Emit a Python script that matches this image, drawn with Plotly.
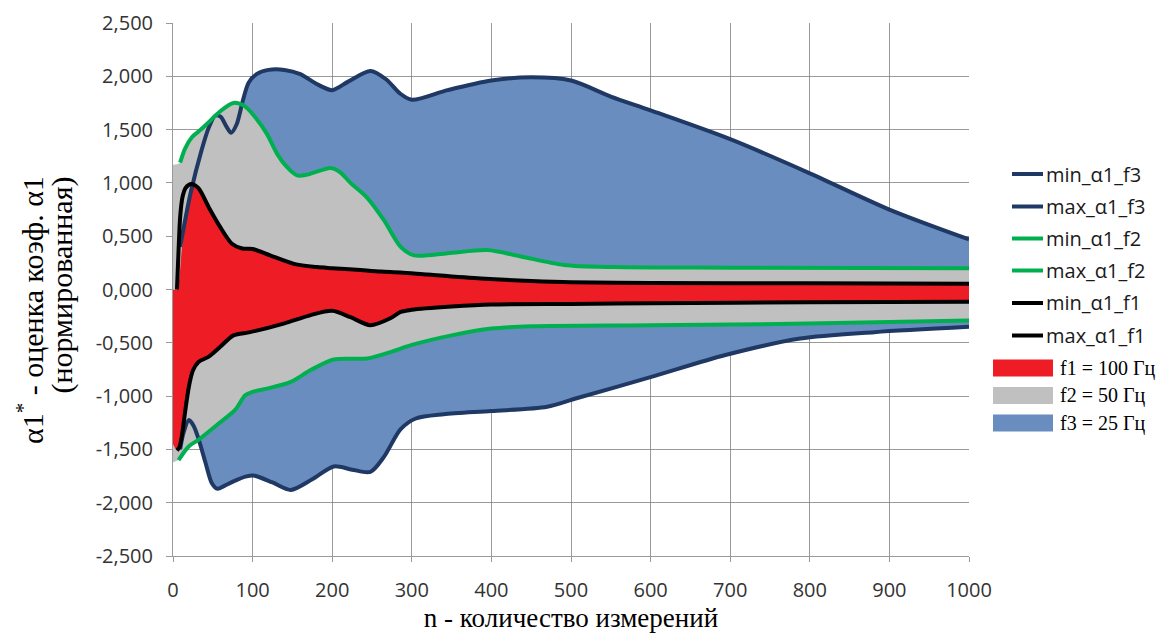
import plotly.graph_objects as go

# ---------------- data ----------------
# upper / lower curves for f3 = 25 Hz (navy)
n_max_f3 = [9, 22, 36, 45, 53, 60, 67, 73, 80, 88, 95, 105, 120, 140, 160, 180, 200, 220, 248,
            268, 285, 300, 345, 400, 450, 500, 550, 600, 700, 800, 900, 1000]
v_max_f3 = [0.40, 0.90, 1.31, 1.52, 1.63, 1.62, 1.53, 1.47, 1.55, 1.78, 1.94, 2.02, 2.06, 2.06, 2.02,
            1.93, 1.87, 1.95, 2.05, 1.97, 1.84, 1.78, 1.87, 1.96, 1.99, 1.96, 1.81, 1.68, 1.41, 1.09,
            0.75, 0.47]
n_min_f3 = [9, 13, 20, 26, 32, 41, 49, 56, 65, 76, 91, 101, 125, 148, 175, 202, 225, 248, 265,
            286, 305, 340, 400, 470, 507, 601, 694, 788, 881, 1000]
v_min_f3 = [-1.50, -1.35, -1.225, -1.28, -1.40, -1.63, -1.82, -1.87, -1.84, -1.80, -1.756, -1.745,
            -1.81, -1.88, -1.78, -1.66, -1.69, -1.71, -1.57, -1.31, -1.21, -1.17, -1.14, -1.10, -1.02,
            -0.82, -0.615, -0.46, -0.40, -0.35]

# upper / lower curves for f2 = 50 Hz (green)
n_max_f2 = [9, 15, 24, 35, 45, 59, 76, 90, 105, 118, 131, 143, 156, 170, 198, 210, 223, 244, 265,
            286, 303, 345, 395, 437, 491, 554, 700, 1000]
v_max_f2 = [1.19, 1.32, 1.43, 1.50, 1.57, 1.67, 1.75, 1.72, 1.60, 1.46, 1.27, 1.15, 1.07, 1.08,
            1.14, 1.10, 1.00, 0.86, 0.65, 0.40, 0.32, 0.34, 0.37, 0.31, 0.23, 0.21, 0.205, 0.20]
n_min_f2 = [7, 20, 32, 57, 78, 91, 100, 118, 148, 173, 202, 244, 274, 300, 350, 400, 450, 600,
            800, 1000]
v_min_f2 = [-1.60, -1.47, -1.41, -1.26, -1.13, -0.99, -0.96, -0.93, -0.866, -0.756, -0.656, -0.647,
            -0.585, -0.52, -0.43, -0.366, -0.345, -0.335, -0.32, -0.29]

# upper / lower curves for f1 = 100 Hz (black)
n_max_f1 = [5, 7, 9, 12, 16, 23, 32, 45, 59, 74, 87, 100, 122, 152, 181, 200, 231, 261, 286, 320,
            387, 450, 500, 600, 800, 1000]
v_max_f1 = [0.0, 0.37, 0.68, 0.87, 0.955, 0.99, 0.95, 0.77, 0.59, 0.43, 0.385, 0.38, 0.32, 0.24,
            0.21, 0.20, 0.185, 0.168, 0.16, 0.14, 0.103, 0.08, 0.068, 0.062, 0.058, 0.055]
n_min_f1 = [5, 8, 11, 15, 20, 25, 32, 45, 59, 76, 97, 139, 173, 200, 223, 248, 273, 286, 300, 350,
            400, 500, 600, 800, 1000]
v_min_f1 = [-1.51, -1.48, -1.38, -1.16, -0.91, -0.76, -0.68, -0.63, -0.54, -0.43, -0.40, -0.32,
            -0.24, -0.20, -0.26, -0.335, -0.27, -0.21, -0.19, -0.16, -0.14, -0.135, -0.13, -0.12,
            -0.116]

# filled areas: start segments that differ from the curves
area_f1_hi_start_n = [0, 5, 11, 16, 20]
area_f1_hi_start_v = [0.0, 0.0, 0.37, 0.68, 0.88]
area_f1_lo_start_n = [0]
area_f1_lo_start_v = [-1.45]
area_f2_hi_start_n = [0]
area_f2_hi_start_v = [1.17]
area_f2_lo_start_n = [0]
area_f2_lo_start_v = [-1.62]

line_names = ["min_α1_f3", "max_α1_f3", "min_α1_f2", "max_α1_f2", "min_α1_f1", "max_α1_f1"]
area_names = ["f1 = 100 Гц", "f2 = 50 Гц", "f3 = 25 Гц"]

y_tick_vals = [-2.5, -2.0, -1.5, -1.0, -0.5, 0.0, 0.5, 1.0, 1.5, 2.0, 2.5]
y_tick_text = ["-2,500", "-2,000", "-1,500", "-1,000", "-0,500", "0,000",
               "0,500", "1,000", "1,500", "2,000", "2,500"]
x_tick_vals = [0, 100, 200, 300, 400, 500, 600, 700, 800, 900, 1000]

y_title_line1 = "α1<sup>*</sup> - оценка коэф. α1"
y_title_line2 = "(нормированная)"
x_title = "n - количество измерений"

# ---------------- styling ----------------
NAVY = "#1F3864"
GREEN = "#00B050"
BLACK = "#000000"
RED = "#EE1C25"
GRAY = "#C0C0C0"
BLUE = "#6A8DBF"
SANS = "Open Sans, Liberation Sans, sans-serif"
SERIF = "Liberation Serif, Times New Roman, serif"


def extend(start_n, start_v, n, v):
    last = start_n[-1]
    xs = list(start_n) + [a for a in n if a > last]
    ys = list(start_v) + [b for a, b in zip(n, v) if a > last]
    return xs, ys


fig = go.Figure()

bands = [
    (n_min_f3, v_min_f3, n_max_f3, v_max_f3, BLUE),
    (*extend(area_f2_lo_start_n, area_f2_lo_start_v, n_min_f2, v_min_f2),
     *extend(area_f2_hi_start_n, area_f2_hi_start_v, n_max_f2, v_max_f2), GRAY),
    (*extend(area_f1_lo_start_n, area_f1_lo_start_v, n_min_f1, v_min_f1),
     *extend(area_f1_hi_start_n, area_f1_hi_start_v, n_max_f1, v_max_f1), RED),
]
for lo_x, lo_y, hi_x, hi_y, col in bands:
    fig.add_trace(go.Scatter(x=lo_x, y=lo_y, mode="lines",
                             line=dict(width=0, color=col, shape="spline", smoothing=0.8),
                             showlegend=False, hoverinfo="skip"))
    fig.add_trace(go.Scatter(x=hi_x, y=hi_y, mode="lines", fill="tonexty", fillcolor=col,
                             line=dict(width=0, color=col, shape="spline", smoothing=0.8),
                             showlegend=False, hoverinfo="skip"))

curves = [
    (n_min_f3, v_min_f3, NAVY, line_names[0]),
    (n_max_f3, v_max_f3, NAVY, line_names[1]),
    (n_min_f2, v_min_f2, GREEN, line_names[2]),
    (n_max_f2, v_max_f2, GREEN, line_names[3]),
    (n_min_f1, v_min_f1, BLACK, line_names[4]),
    (n_max_f1, v_max_f1, BLACK, line_names[5]),
]
for xs, ys, col, name in curves:
    fig.add_trace(go.Scatter(x=xs, y=ys, mode="lines", name=name, showlegend=False,
                             line=dict(width=4, color=col, shape="spline", smoothing=0.8)))

# ---------------- layout ----------------
OFF = 8                      # page body margin of the html page
FW, FH = 1167, 637
L, R, T, B = 173, 969, 23, 556   # plot area in window pixels
W, H = R - L, B - T
ml, mt = L - OFF, T - OFF
mr, mb = FW - (R - OFF), FH - (B - OFF)


def px_x(p):
    return (p - L) / W


def px_y(p):
    return (B - p) / H


shapes = []
annotations = []
line_legend_y = [174, 206.5, 238.5, 270.5, 303, 335.5]
line_cols = [NAVY, NAVY, GREEN, GREEN, BLACK, BLACK]
for yc, col, name in zip(line_legend_y, line_cols, line_names):
    shapes.append(dict(type="line", xref="paper", yref="paper", x0=px_x(1012), x1=px_x(1043),
                       y0=px_y(yc), y1=px_y(yc), line=dict(color=col, width=4)))
    annotations.append(dict(xref="paper", yref="paper", x=px_x(1044), y=px_y(yc), text=name,
                            showarrow=False, xanchor="left", yanchor="middle",
                            font=dict(family=SANS, size=20, color="#1a1a1a")))
fill_legend_y = [368, 395.5, 423]
fill_cols = [RED, GRAY, BLUE]
for yc, col, name in zip(fill_legend_y, fill_cols, area_names):
    shapes.append(dict(type="rect", xref="paper", yref="paper", x0=px_x(993), x1=px_x(1053),
                       y0=px_y(yc + 8.5), y1=px_y(yc - 8.5), fillcolor=col, line=dict(width=0)))
    annotations.append(dict(xref="paper", yref="paper", x=px_x(1058), y=px_y(yc), text=name,
                            showarrow=False, xanchor="left", yanchor="middle",
                            font=dict(family=SERIF, size=20, color="#000000")))

# y-axis title: two lines, both ending at the same height (as in the reference)
annotations.append(dict(xref="paper", yref="paper", x=px_x(9), y=px_y(174),
                        text=y_title_line1, textangle=-90, showarrow=False,
                        xanchor="left", yanchor="top",
                        font=dict(family=SERIF, size=30, color="#000000")))
annotations.append(dict(xref="paper", yref="paper", x=px_x(80), y=px_y(174),
                        text=y_title_line2, textangle=-90, showarrow=False,
                        xanchor="right", yanchor="top",
                        font=dict(family=SERIF, size=30, color="#000000")))

GRID = "rgba(120,120,120,0.75)"
fig.update_layout(
    width=FW, height=FH,
    margin=dict(l=ml, r=mr, t=mt, b=mb, autoexpand=False),
    paper_bgcolor="white", plot_bgcolor="white",
    showlegend=False,
    shapes=shapes, annotations=annotations,
    xaxis=dict(range=[0, 1000], tickvals=x_tick_vals, showgrid=True, gridcolor=GRID, gridwidth=1,
               zeroline=False, showline=True, linecolor=GRID, linewidth=1,
               ticks="outside", ticklen=5, tickcolor=GRID, layer="above traces",
               ticklabelstandoff=11,
               tickfont=dict(family=SANS, size=20, color="#333333"),
               title=dict(text=x_title,
                          font=dict(family=SERIF, size=27, color="#000000"), standoff=6)),
    yaxis=dict(range=[-2.5, 2.5], tickvals=y_tick_vals, ticktext=y_tick_text, showgrid=True,
               gridcolor=GRID, gridwidth=1, zeroline=False, showline=True, linecolor=GRID,
               linewidth=1, ticks="outside", ticklen=6, tickcolor=GRID, layer="above traces",
               ticklabelstandoff=9,
               tickfont=dict(family=SANS, size=20, color="#333333")),
)

fig.write_html("out.html")
